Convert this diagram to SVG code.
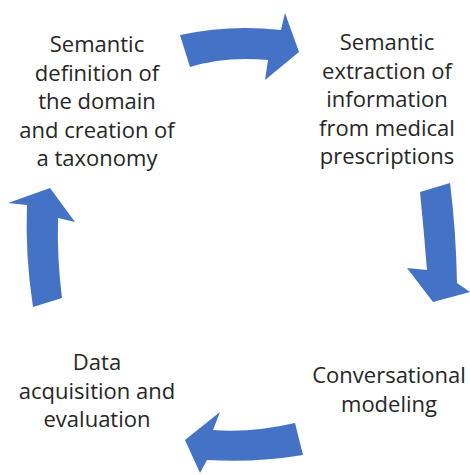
<svg xmlns="http://www.w3.org/2000/svg" width="470" height="475" viewBox="0 0 470 475">
<style>
.t{font-family:"Open Sans","Liberation Sans",sans-serif;font-size:22px;fill:#262626;text-anchor:middle}
.a{fill:#4472C4}
</style>
<rect width="470" height="475" fill="#ffffff"/>
<g id="connectors">
<path class="a" d="M180,35 Q230,24 281,30 L285,13 L299,52 L265,80 L268,60 Q225,56 190,67 Z"/>
<path class="a" d="M420,192 Q424,232 427,270 L407,268 L433,302 L470,292 L457,283 Q456,230 450,183 Z"/>
<path class="a" d="M295,423 Q252,433 213,430 L220,412 L185,440 L200,473 L207,460 Q255,463 303,455 Z"/>
<path class="a" d="M33,307 Q25,255 27,205 L8,203 L50,188 L75,222 L58,218 Q57,260 62,298 Z"/>
</g>
<g id="node1">
<text class="t" x="97" y="52">Semantic</text>
<text class="t" x="97" y="80.5">definition of</text>
<text class="t" x="97" y="109">the domain</text>
<text class="t" x="97" y="137.5">and creation of</text>
<text class="t" x="97" y="166">a taxonomy</text>
</g>
<g id="node2">
<text class="t" x="387" y="50">Semantic</text>
<text class="t" x="387" y="78.5">extraction of</text>
<text class="t" x="387" y="107">information</text>
<text class="t" x="387" y="135.5">from medical</text>
<text class="t" x="387" y="164">prescriptions</text>
</g>
<g id="node3">
<text class="t" x="389" y="383">Conversational</text>
<text class="t" x="389" y="411.5">modeling</text>
</g>
<g id="node4">
<text class="t" x="97" y="370">Data</text>
<text class="t" x="97" y="398.5">acquisition and</text>
<text class="t" x="97" y="427">evaluation</text>
</g>
</svg>
